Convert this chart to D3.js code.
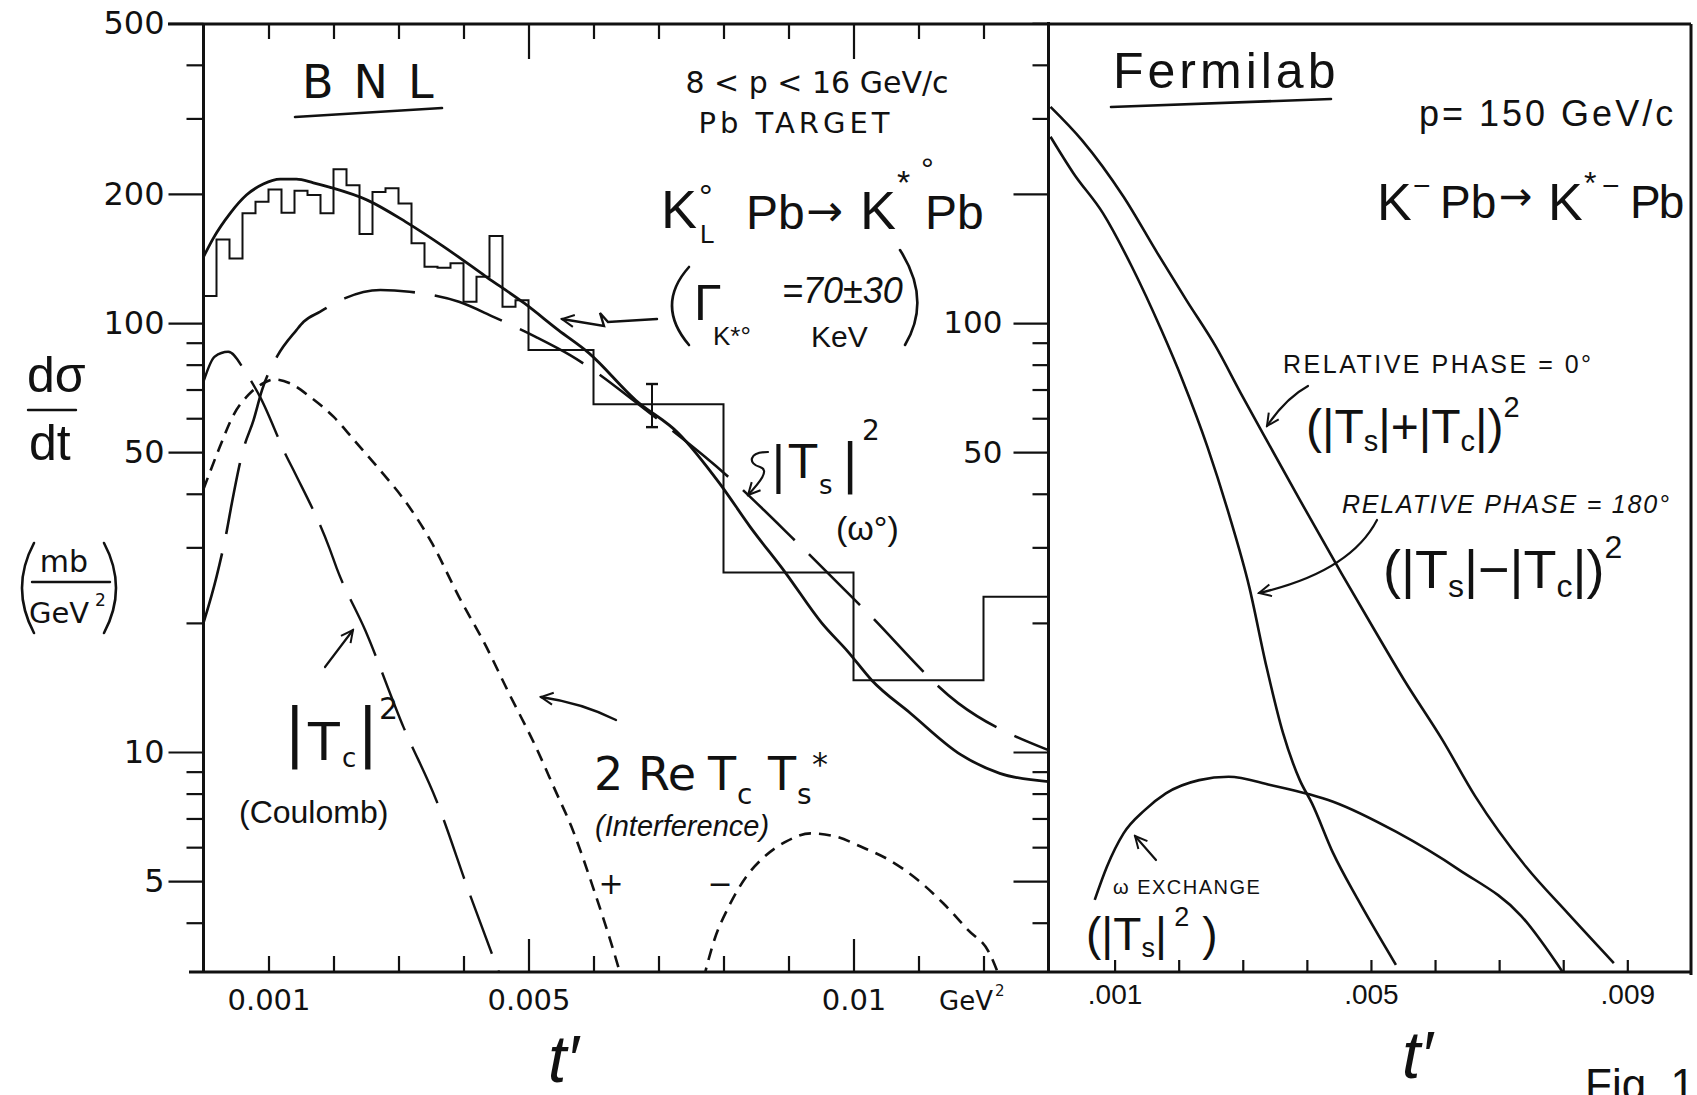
<!DOCTYPE html>
<html>
<head>
<meta charset="utf-8">
<script src="https://cdn.jsdelivr.net/npm/d3@7"></script>
<style>
body { margin: 0; background: #fff; }
svg { display: block; background: #fff; }
</style>
</head>
<body>
<div id="chart"></div>
<script>
// ---- BNL panel: K0L Pb -> K*0 Pb ----
// histogram bin edges (t', GeV^2) and heights (mb/GeV^2)
var binEdges = [0, 0.0002, 0.0004, 0.0006, 0.0008, 0.0010, 0.0012, 0.0014, 0.0016, 0.0018,
                0.0020, 0.0022, 0.0024, 0.0026, 0.0028, 0.0030, 0.0032, 0.0034, 0.0036, 0.0038,
                0.0040, 0.0042, 0.0044, 0.0046, 0.0048, 0.0050, 0.0060, 0.0080, 0.0100, 0.0120, 0.0130];
var binValues = [115.6, 156.6, 141.5, 180.2, 191.8, 204.8, 180.8, 203.5, 198.8, 180.2,
                 228.3, 209.6, 161.3, 202.1, 206.1, 190.1, 153.4, 135.3, 134.6, 137.8,
                 112.1, 128.2, 159.5, 109.1, 113.1, 86.5, 64.7, 26.2, 14.7, 23.0];

// single error bar
var errT = [0.0069];
var errLow = [57.2];
var errHigh = [72.1];

// total fit (solid)
var totalT = [0, 0.00015, 0.00041, 0.00066, 0.00092, 0.00118, 0.00143, 0.00169, 0.00195, 0.00252,
              0.00311, 0.0037, 0.00435, 0.00494, 0.00546, 0.00593, 0.00665, 0.00731, 0.00794, 0.00841,
              0.00896, 0.00951, 0.00992, 0.01028, 0.01088, 0.01165, 0.01225, 0.013];
var totalV = [142.7, 157.6, 180.2, 198.8, 210.9, 216.6, 216.6, 212.3, 207.2, 193.5,
              172.2, 150.6, 128.2, 111.1, 96.3, 85.1, 66.1, 55.3, 42.3, 33.5,
              26.1, 20.0, 17.1, 14.7, 12.3, 9.86, 8.92, 8.53];

// |Tc|^2 Coulomb (long dash)
var coulT = [0, 0.00017, 0.00038, 0.00066, 0.00087, 0.00128, 0.00141, 0.00194, 0.00205, 0.00249,
             0.00308, 0.00358, 0.00411, 0.00455];
var coulV = [73.0, 83.5, 85.7, 76.3, 67.3, 48.8, 44.6, 29.8, 26.8, 19.2,
             11.4, 7.73, 4.60, 3.05];

// |Ts|^2 omega exchange (long dash)
var strT = [0, 0.0002, 0.00036, 0.00043, 0.00061, 0.00077, 0.0009, 0.00113, 0.00143, 0.00154,
            0.00179, 0.00217, 0.00272, 0.00317, 0.00393, 0.00446, 0.00511, 0.00564, 0.00687, 0.00812,
            0.00915, 0.01018, 0.01161, 0.013];
var strV = [20.0, 25.6, 32.9, 37.6, 50.6, 59.4, 69.8, 83.5, 96.3, 100.7,
            106.2, 114.2, 119.4, 118.3, 112.1, 103.4, 92.9, 84.2, 61.6, 43.2,
            30.6, 21.4, 13.0, 10.1];

// 2 Re Tc Ts* interference (short dash), positive and negative lobes
var intPosT = [0, 0.00025, 0.00046, 0.00069, 0.00092, 0.0011, 0.00133, 0.00164, 0.002, 0.00236,
               0.00282, 0.00305, 0.00352, 0.00393, 0.00435, 0.0047, 0.00511, 0.00541, 0.00566, 0.00599,
               0.00638, 0.00645];
var intPosV = [41.0, 51.4, 61.0, 68.0, 72.4, 73.9, 72.4, 67.3, 60.5, 52.4,
               43.5, 39.4, 30.6, 23.0, 17.6, 13.7, 10.3, 8.15, 6.70, 4.85,
               3.16, 2.9];
var intNegT = [0.00769, 0.00786, 0.00808, 0.00835, 0.00863, 0.00896, 0.00934, 0.00973, 0.01011, 0.01055,
               0.01099, 0.01138, 0.01176, 0.01209, 0.01226];
var intNegV = [2.95, 3.65, 4.36, 5.12, 5.70, 6.18, 6.46, 6.35, 6.02, 5.60,
               5.03, 4.44, 3.85, 3.40, 2.95];

// ---- Fermilab panel: K- Pb -> K*- Pb, p = 150 GeV/c ----
var phase0T = [0, 0.00049, 0.00114, 0.00167, 0.00212, 0.00258, 0.00297, 0.00337, 0.00389, 0.00454,
               0.00506, 0.00552, 0.00611, 0.00663, 0.00742, 0.00807, 0.00879];
var phase0V = [319.3, 267.1, 197.0, 145.4, 113.1, 88.1, 68.6, 53.4, 38.7, 26.1,
               19.2, 14.7, 10.7, 7.87, 5.40, 4.21, 3.22];
var phase180T = [0, 0.00036, 0.00082, 0.00127, 0.00173, 0.00206, 0.00245, 0.00278, 0.0031, 0.00337,
                 0.00363, 0.00389, 0.00408, 0.00441, 0.0048, 0.00539];
var phase180V = [271.9, 223.3, 180.2, 135.3, 96.3, 73.6, 51.4, 36.0, 24.3, 15.8,
                 11.05, 8.6, 7.59, 5.81, 4.52, 3.19];
var omegaT = [0.00069, 0.00088, 0.00114, 0.00147, 0.0018, 0.00232, 0.00278, 0.00343, 0.00441, 0.00539,
              0.00637, 0.00735, 0.00801];
var omegaV = [4.52, 5.40, 6.46, 7.32, 8.01, 8.60, 8.76, 8.38, 7.66, 6.52,
              5.32, 4.14, 3.04];

// ticks and labels
var yTicks = [4, 5, 6, 7, 8, 9, 10, 20, 30, 40, 50, 60, 70, 80, 90, 100, 200, 300, 400, 500];
var yLabels = [5, 10, 50, 100, 200, 500];
var yLongRight = [5, 10, 50, 100, 200];
var yLabelsRight = [50, 100];
var xTicksL = [0.001, 0.002, 0.003, 0.004, 0.005, 0.006, 0.007, 0.008, 0.009, 0.010, 0.011, 0.012];
var xLongL = [0.005, 0.010];
var xLabelsL = [0.001, 0.005, 0.010];
var xLabelTextL = ["0.001", "0.005", "0.01"];
var xTicksR = [0.001, 0.002, 0.003, 0.004, 0.005, 0.006, 0.007, 0.008, 0.009];
var xLabelsR = [0.001, 0.005, 0.009];
var xLabelTextR = [".001", ".005", ".009"];

var PRINT = "'DejaVu Sans', sans-serif";
var HAND = "'Liberation Sans', Arial, sans-serif";
var INK = "#111";

var W = 1697, H = 1095;
var TOP = 24, BOTTOM = 972;
var LEFT = 203.5, MID = 1048.5, RIGHT = 1691;

var svg = d3.select("#chart").append("svg")
    .attr("width", W)
    .attr("height", H);

var xL = d3.scaleLinear().domain([0, 0.013]).range([LEFT, MID]);
var xR = d3.scaleLinear().domain([0, 0.01]).range([1050.5, 1691.4]);
var y = d3.scaleLog().domain([3.07, 498]).range([BOTTOM, TOP]);

var defs = svg.append("defs");
defs.append("clipPath").attr("id", "clipL").append("rect")
    .attr("x", LEFT).attr("y", TOP).attr("width", MID - LEFT).attr("height", BOTTOM - TOP);
defs.append("clipPath").attr("id", "clipR").append("rect")
    .attr("x", MID).attr("y", TOP).attr("width", RIGHT - MID).attr("height", BOTTOM - TOP);
defs.append("marker")
    .attr("id", "arr")
    .attr("viewBox", "-14 -9 16 18")
    .attr("refX", 0).attr("refY", 0)
    .attr("markerWidth", 16).attr("markerHeight", 18)
    .attr("markerUnits", "userSpaceOnUse")
    .attr("orient", "auto")
    .append("path")
    .attr("d", "M-12,-6 L0,0 L-12,6")
    .attr("fill", "none")
    .attr("stroke", INK)
    .attr("stroke-width", 2);

// ---- frame ----
function frameLine(x1, y1, x2, y2, w) {
    svg.append("line")
        .attr("x1", x1).attr("y1", y1).attr("x2", x2).attr("y2", y2)
        .attr("stroke", INK).attr("stroke-width", w || 3);
}
frameLine(168, TOP, RIGHT, TOP);
frameLine(LEFT, TOP, LEFT, BOTTOM);
frameLine(189, BOTTOM, RIGHT, BOTTOM);
frameLine(MID, TOP - 2, MID, BOTTOM);
frameLine(RIGHT, TOP, RIGHT, BOTTOM + 3);

// ---- axes ----
function styleAxis(g, size, family) {
    g.select(".domain").remove();
    g.selectAll("line").attr("stroke", INK).attr("stroke-width", 2.2);
    g.selectAll("text").attr("fill", INK).attr("font-size", size).attr("font-family", family);
}

var yAxisL = d3.axisLeft(y)
    .tickValues(yTicks)
    .tickSize(17)
    .tickPadding(22)
    .tickFormat(function (d) { return yLabels.indexOf(d) >= 0 ? d : ""; });
var gyL = svg.append("g").attr("transform", "translate(" + LEFT + ",0)").call(yAxisL);
styleAxis(gyL, 32, PRINT);
gyL.selectAll(".tick").filter(function (d) { return yLabels.indexOf(d) >= 0; })
    .select("line").attr("x2", -35);

var yAxisM = d3.axisLeft(y)
    .tickValues(yTicks)
    .tickSize(16)
    .tickPadding(30)
    .tickFormat(function (d) { return yLabelsRight.indexOf(d) >= 0 ? d : ""; });
var gyM = svg.append("g").attr("transform", "translate(" + MID + ",0)").call(yAxisM);
styleAxis(gyM, 31, PRINT);
gyM.selectAll(".tick").filter(function (d) { return yLongRight.indexOf(d) >= 0; })
    .select("line").attr("x2", -35);

var xAxisLB = d3.axisBottom(xL)
    .tickValues(xTicksL)
    .tickSize(-16)
    .tickPadding(17)
    .tickFormat(function (d) {
        var i = xLabelsL.findIndex(function (v) { return Math.abs(v - d) < 1e-9; });
        return i >= 0 ? xLabelTextL[i] : "";
    });
var gxLB = svg.append("g").attr("transform", "translate(0," + BOTTOM + ")").call(xAxisLB);
styleAxis(gxLB, 29, PRINT);
gxLB.selectAll(".tick").filter(function (d) {
    return xLongL.some(function (v) { return Math.abs(v - d) < 1e-9; });
}).select("line").attr("y2", -33);

var xAxisLT = d3.axisTop(xL)
    .tickValues(xTicksL)
    .tickSize(-15)
    .tickFormat("");
var gxLT = svg.append("g").attr("transform", "translate(0," + TOP + ")").call(xAxisLT);
styleAxis(gxLT, 10, PRINT);
gxLT.selectAll(".tick").filter(function (d) {
    return xLongL.some(function (v) { return Math.abs(v - d) < 1e-9; });
}).select("line").attr("y2", 35);

var xAxisR = d3.axisBottom(xR)
    .tickValues(xTicksR)
    .tickSize(-12)
    .tickPadding(12)
    .tickFormat(function (d) {
        var i = xLabelsR.findIndex(function (v) { return Math.abs(v - d) < 1e-9; });
        return i >= 0 ? xLabelTextR[i] : "";
    });
var gxR = svg.append("g").attr("transform", "translate(0," + BOTTOM + ")").call(xAxisR);
styleAxis(gxR, 28, HAND);

// ---- BNL data ----
var plotL = svg.append("g").attr("clip-path", "url(#clipL)");

// histogram as a step outline
var hist = d3.path();
hist.moveTo(xL(binEdges[0]), y(binValues[0]));
for (var i = 0; i < binValues.length; i++) {
    hist.lineTo(xL(binEdges[i + 1]), y(binValues[i]));
    if (i + 1 < binValues.length) {
        hist.lineTo(xL(binEdges[i + 1]), y(binValues[i + 1]));
    }
}
plotL.append("path")
    .attr("d", hist.toString())
    .attr("fill", "none")
    .attr("stroke", INK)
    .attr("stroke-width", 2);

// error bar
errT.forEach(function (t, i) {
    var cx = xL(t);
    plotL.append("line").attr("x1", cx).attr("x2", cx)
        .attr("y1", y(errLow[i])).attr("y2", y(errHigh[i]))
        .attr("stroke", INK).attr("stroke-width", 2);
    [errLow[i], errHigh[i]].forEach(function (v) {
        plotL.append("line").attr("x1", cx - 6).attr("x2", cx + 6)
            .attr("y1", y(v)).attr("y2", y(v))
            .attr("stroke", INK).attr("stroke-width", 2.4);
    });
});

function zip(ts, vs) {
    return ts.map(function (t, i) { return [t, vs[i]]; });
}

function drawCurve(g, xs, ts, vs, dash, width) {
    var line = d3.line()
        .x(function (d) { return xs(d[0]); })
        .y(function (d) { return y(d[1]); })
        .curve(d3.curveMonotoneX);
    g.append("path")
        .datum(zip(ts, vs))
        .attr("d", line)
        .attr("fill", "none")
        .attr("stroke", INK)
        .attr("stroke-width", width)
        .attr("stroke-linecap", "butt")
        .attr("stroke-dasharray", dash);
}

drawCurve(plotL, xL, totalT, totalV, null, 2.8);
drawCurve(plotL, xL, coulT, coulV, "62,18", 2.4);
drawCurve(plotL, xL, strT, strV, "72,20", 2.6);
drawCurve(plotL, xL, intPosT, intPosV, "12,8", 2.6);
drawCurve(plotL, xL, intNegT, intNegV, "12,8", 2.6);

// ---- Fermilab data ----
var plotR = svg.append("g").attr("clip-path", "url(#clipR)");
drawCurve(plotR, xR, phase0T, phase0V, null, 2.6);
drawCurve(plotR, xR, phase180T, phase180V, null, 2.6);
drawCurve(plotR, xR, omegaT, omegaV, null, 2.6);

// ---- text helpers ----
function txt(x, yy, s, size, family, opts) {
    opts = opts || {};
    var t = svg.append("text")
        .attr("x", x).attr("y", yy)
        .attr("font-size", size)
        .attr("font-family", family)
        .attr("fill", INK)
        .attr("text-anchor", opts.anchor || "start")
        .text(s);
    if (opts.italic) t.attr("font-style", "italic");
    if (opts.ls) t.attr("letter-spacing", opts.ls);
    return t;
}
function stroke(d, w, arrow) {
    var p = svg.append("path").attr("d", d)
        .attr("fill", "none").attr("stroke", INK)
        .attr("stroke-width", w || 2.2)
        .attr("stroke-linecap", "round");
    if (arrow) p.attr("marker-end", "url(#arr)");
    return p;
}

// axis title, left
txt(27, 392, "d\u03C3", 50, HAND);
stroke("M28,410 L76,410", 2.4);
txt(29, 460, "dt", 50, HAND);
stroke("M34,543 Q10,588 34,633", 2.6);
stroke("M104,543 Q128,588 104,633", 2.6);
txt(64, 572, "mb", 30, PRINT, { anchor: "middle" });
stroke("M32,582 L110,582", 2.4);
txt(29, 623, "GeV", 29, PRINT);
txt(95, 606, "2", 17, PRINT);

// x-axis extras
txt(939, 1010, "GeV", 26, PRINT);
txt(995, 996, "2", 15, PRINT);
txt(548, 1082, "t\u2032", 66, HAND, { italic: true });
txt(1402, 1078, "t\u2032", 66, HAND, { italic: true });
txt(1585, 1100, "Fig. 1", 44, HAND);

// BNL header
txt(302, 98, "BNL", 46, PRINT, { ls: 20 });
stroke("M295,117 L442,108", 2.6);
txt(817, 93, "8 < p < 16 GeV/c", 30, PRINT, { anchor: "middle" });
txt(796, 133, "Pb TARGET", 29, PRINT, { anchor: "middle", ls: 4 });

// reaction K0L Pb -> K*0 Pb
txt(661, 228, "K", 54, HAND);
txt(699, 208, "\u00B0", 34, HAND);
txt(700, 243, "L", 26, HAND);
txt(746, 229, "Pb", 48, HAND);
txt(806, 226, "\u2192", 44, PRINT);
txt(860, 229, "K", 54, HAND);
txt(897, 194, "*", 34, HAND);
txt(921, 180, "\u00B0", 32, HAND);
txt(925, 229, "Pb", 48, HAND);

// width annotation with arrow
stroke("M689,267 Q655,305 689,345", 2.6);
txt(694, 320, "\u0393", 50, HAND);
txt(713, 345, "K*\u00B0", 26, HAND);
txt(782, 303, "=70\u00B130", 36, HAND, { italic: true });
txt(811, 347, "KeV", 30, HAND);
stroke("M900,250 Q932,300 905,345", 2.6);
stroke("M657,319 L608,322 L600,313 L604,326 L562,319", 2.4, true);

// |Ts|^2 label
stroke("M768,452 C748,452 748,464 760,467 C770,470 760,482 748,495", 2.2, true);
txt(770, 482, "|", 50, PRINT);
txt(789, 478, "T", 46, PRINT);
txt(819, 494, "s", 26, PRINT);
txt(841, 482, "|", 54, PRINT);
txt(862, 440, "2", 28, PRINT);
txt(836, 540, "(\u03C9\u00B0)", 34, HAND);

// |Tc|^2 label
txt(284, 754, "|", 64, PRINT);
txt(308, 760, "T", 52, PRINT);
txt(342, 767, "c", 26, PRINT);
txt(357, 754, "|", 64, PRINT);
txt(379, 719, "2", 30, PRINT);
stroke("M325,667 L353,630", 2.2, true);
txt(239, 823, "(Coulomb)", 32, HAND);

// interference label
txt(594, 790, "2 Re", 46, PRINT);
txt(708, 790, "T", 46, PRINT);
txt(737, 804, "c", 28, PRINT);
txt(768, 790, "T", 46, PRINT);
txt(797, 804, "s", 28, PRINT);
txt(812, 775, "*", 32, PRINT);
txt(595, 836, "(Interference)", 29, HAND, { italic: true });
stroke("M616,720 Q582,703 541,697", 2.4, true);
txt(611, 894, "+", 30, PRINT, { anchor: "middle" });
txt(720, 894, "\u2212", 30, PRINT, { anchor: "middle" });

// Fermilab header
txt(1113, 88, "Fermilab", 50, HAND, { ls: 4 });
stroke("M1111,107 L1331,99", 2.6);
txt(1419, 126, "p= 150 GeV/c", 36, HAND, { ls: 3 });
txt(1377, 220, "K", 52, HAND);
txt(1413, 196, "\u2212", 30, HAND);
txt(1440, 218, "Pb", 46, HAND);
txt(1499, 210, "\u2192", 40, PRINT);
txt(1548, 220, "K", 52, HAND);
txt(1584, 194, "*", 32, HAND);
txt(1602, 196, "\u2212", 30, HAND);
txt(1630, 218, "Pb", 46, HAND, { ls: -2 });

// phase labels
txt(1283, 373, "RELATIVE  PHASE = 0\u00B0", 25, HAND, { ls: 2.5 });
var f0 = txt(1306, 443, "", 48, HAND);
f0.append("tspan").text("(|T");
f0.append("tspan").attr("font-size", 29).attr("dy", 8).text("s");
f0.append("tspan").attr("dy", -8).text("|+|T");
f0.append("tspan").attr("font-size", 29).attr("dy", 8).text("c");
f0.append("tspan").attr("dy", -8).text("|)");
f0.append("tspan").attr("font-size", 29).attr("dy", -26).text("2");
stroke("M1308,386 Q1286,398 1267,426", 2.2, true);

txt(1342, 513, "RELATIVE  PHASE = 180\u00B0", 25, HAND, { ls: 1.8, italic: true });
var f1 = txt(1383, 588, "", 54, HAND);
f1.append("tspan").text("(|T");
f1.append("tspan").attr("font-size", 32).attr("dy", 9).text("s");
f1.append("tspan").attr("dy", -9).text("|\u2212|T");
f1.append("tspan").attr("font-size", 32).attr("dy", 9).text("c");
f1.append("tspan").attr("dy", -9).text("|)");
f1.append("tspan").attr("font-size", 32).attr("dy", -30).text("2");
stroke("M1377,520 Q1350,572 1259,593", 2.2, true);

txt(1113, 894, "\u03C9 EXCHANGE", 20, HAND, { ls: 1.5 });
var f2 = txt(1086, 950, "", 46, HAND);
f2.append("tspan").text("(|T");
f2.append("tspan").attr("font-size", 27).attr("dy", 7).text("s");
f2.append("tspan").attr("dy", -7).text("|");
f2.append("tspan").attr("font-size", 27).attr("dy", -24).text(" 2");
f2.append("tspan").attr("dy", 24).text(" )");
stroke("M1156,860 L1135,836", 2.2, true);
</script>
</body>
</html>
